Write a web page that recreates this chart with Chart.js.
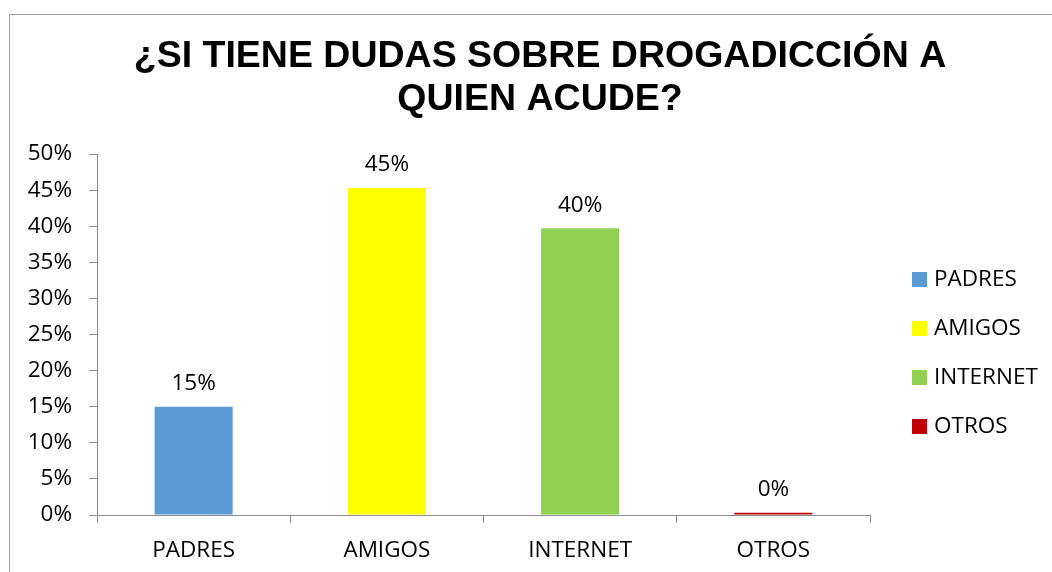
<!DOCTYPE html>
<html>
<head>
<meta charset="utf-8">
<script src="https://cdn.jsdelivr.net/npm/chart.js@4.4.1/dist/chart.umd.min.js"></script>
<style>
  html, body { margin: 0; padding: 0; background: #fff; }
</style>
</head>
<body>
<canvas id="chart" width="1052" height="572"></canvas>
<script>
const categories = ["PADRES", "AMIGOS", "INTERNET", "OTROS"];
const values = [15, 45.3, 39.7, 0.3];
const barColors = ["#5B9BD5", "#FFFF00", "#92D050", "#C00000"];
const titleLines = ["¿SI TIENE DUDAS SOBRE DROGADICCIÓN A", "QUIEN ACUDE?"];

const labelFont = "'Open Sans', sans-serif";

const frame = {
    id: "frame",
    beforeDraw: (chart) => {
        const { ctx } = chart;
        ctx.save();
        ctx.fillStyle = "#fff";
        ctx.fillRect(0, 0, chart.width, chart.height);
        ctx.strokeStyle = "#a0a0a0";
        ctx.lineWidth = 1;
        ctx.strokeRect(9.5, 14.5, 1200, 700);
        // title
        ctx.fillStyle = "#000";
        ctx.font = "bold 37.5px 'Liberation Sans', Arial, sans-serif";
        ctx.textAlign = "center";
        ctx.textBaseline = "middle";
        ctx.fillText(titleLines[0], 540, 57);
        ctx.fillText(titleLines[1], 540, 100);
        ctx.restore();
    },
};

const valueLabels = {
    id: "valueLabels",
    afterDatasetsDraw: (chart) => {
        const { ctx } = chart;
        const meta = chart.getDatasetMeta(0);
        ctx.save();
        ctx.fillStyle = "#000";
        ctx.font = "22.5px " + labelFont;
        ctx.textAlign = "center";
        ctx.textBaseline = "bottom";
        meta.data.forEach((bar, i) => {
            ctx.fillText(Math.round(values[i]) + "%", bar.x, bar.y - 12);
        });
        ctx.restore();
    },
};

const sideLegend = {
    id: "sideLegend",
    afterDraw: (chart) => {
        const { ctx, chartArea } = chart;
        const x = chartArea.right + 42;
        const y0 = 279;
        const step = 49;
        ctx.save();
        ctx.font = "22.5px " + labelFont;
        ctx.textAlign = "left";
        ctx.textBaseline = "middle";
        categories.forEach((c, i) => {
            const y = y0 + i * step;
            ctx.fillStyle = barColors[i];
            ctx.fillRect(x, y - 7, 15, 15);
            ctx.fillStyle = "#000";
            ctx.fillText(c, x + 22, y + 1);
        });
        ctx.restore();
    },
};

new Chart(document.getElementById("chart"), {
    type: "bar",
    data: {
        labels: categories,
        datasets: [
            {
                data: values,
                backgroundColor: barColors,
                borderWidth: 0,
                categoryPercentage: 1,
                barPercentage: 0.404,
            },
        ],
    },
    options: {
        responsive: false,
        animation: false,
        events: [],
        layout: {
            padding: { left: 0, right: 182, top: 154, bottom: 0 },
        },
        plugins: {
            legend: { display: false },
            title: { display: false },
            tooltip: { enabled: false },
        },
        scales: {
            y: {
                min: 0,
                max: 50,
                afterFit: (scale) => { scale.width = 97; },
                ticks: {
                    stepSize: 5,
                    padding: 17,
                    color: "#000",
                    font: { family: labelFont, size: 22.5 },
                    callback: (v) => v + "%",
                },
                grid: {
                    drawOnChartArea: false,
                    tickLength: 8,
                    color: "#8c8c8c",
                },
                border: { color: "#8c8c8c" },
            },
            x: {
                afterFit: (scale) => { scale.height = 57; },
                ticks: {
                    padding: 14,
                    color: "#000",
                    font: { family: labelFont, size: 22.5 },
                },
                grid: {
                    drawOnChartArea: false,
                    tickLength: 8,
                    color: "#8c8c8c",
                },
                border: { color: "#8c8c8c" },
            },
        },
    },
    plugins: [frame, valueLabels, sideLegend],
});
</script>
</body>
</html>
